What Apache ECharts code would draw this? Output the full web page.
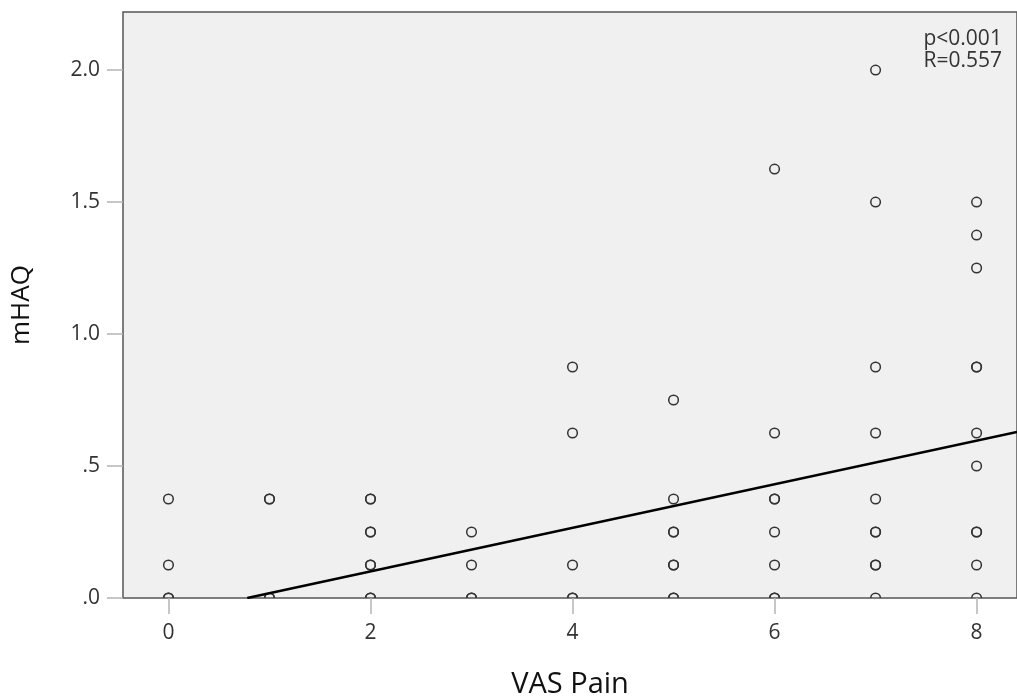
<!DOCTYPE html>
<html>
<head>
<meta charset="utf-8">
<script src="https://cdn.jsdelivr.net/npm/echarts@6/dist/echarts.min.js"></script>
<style>html,body{margin:0;padding:0;background:#fff}#c{width:1017px;height:697px}</style>
</head>
<body>
<div id="c"></div>
<script>
// VAS Pain (x) and mHAQ (y) observations; repeated pairs are overlapping points
const vasPain = [0,0,0,0, 1,1,1,1, 2,2,2,2,2,2,2,2, 3,3,3,3, 4,4,4,4,4, 5,5,5,5,5,5,5,5,
  6,6,6,6,6,6,6,6, 7,7,7,7,7,7,7,7,7,7, 8,8,8,8,8,8,8,8,8,8,8];
const mhaq = [0,0,0.125,0.375, 0,0,0.375,0.375, 0,0,0.125,0.125,0.25,0.25,0.375,0.375, 0,0,0.125,0.25, 0,0,0.125,0.625,0.875,
  0,0,0.125,0.125,0.25,0.25,0.375,0.75,
  0,0,0.125,0.25,0.375,0.375,0.625,1.625,
  0,0.125,0.125,0.25,0.25,0.375,0.625,0.875,1.5,2.0,
  0,0.125,0.25,0.25,0.5,0.625,0.875,0.875,1.25,1.375,1.5];
// fitted regression line end points
const fitX = [0.78, 8.4];
const fitY = [0, 0.629];
const xTickValues = [0, 2, 4, 6, 8];
const yTickValues = [0, 0.5, 1, 1.5, 2];
const yTickLabels = ['.0', '.5', '1.0', '1.5', '2.0'];
const annotation = ['p<0.001', 'R=0.557'];

const font = 'Open Sans';
const chart = echarts.init(document.getElementById('c'), null, {renderer: 'canvas'});
const points = vasPain.map((x, i) => [x, mhaq[i]]);
chart.setOption({
  animation: false,
  textStyle: {fontFamily: font},
  grid: {left: 123, top: 12, right: 0, bottom: 99, show: true, containLabel: false, outerBoundsMode: 'none',
    backgroundColor: '#f0f0f0', borderColor: '#555', borderWidth: 1.5},
  xAxis: {
    type: 'value', min: -0.45, max: 8.4,
    name: 'VAS Pain', nameLocation: 'middle', nameGap: 72,
    nameTextStyle: {fontSize: 29, color: '#111', fontFamily: font},
    axisLine: {show: false, onZero: false},
    splitLine: {show: false},
    axisTick: {show: true, length: 16, customValues: xTickValues, lineStyle: {color: '#b5b5b5', width: 1.5}},
    axisLabel: {customValues: xTickValues, margin: 25, fontSize: 21, color: '#333', fontFamily: font}
  },
  yAxis: {
    type: 'value', min: 0, max: 2.22,
    name: 'mHAQ', nameLocation: 'middle', nameGap: 88,
    nameTextStyle: {fontSize: 26, color: '#111', fontFamily: font},
    axisLine: {show: false, onZero: false},
    splitLine: {show: false},
    axisTick: {show: true, length: 16, customValues: yTickValues, lineStyle: {color: '#b5b5b5', width: 1.5}},
    axisLabel: {customValues: yTickValues, margin: 23, fontSize: 21, color: '#333', fontFamily: font,
      formatter: v => yTickLabels[yTickValues.findIndex(t => Math.abs(t - v) < 1e-9)]}
  },
  series: [
    {type: 'custom', data: points, clip: true,
      renderItem: (params, api) => {
        const p = api.coord([api.value(0), api.value(1)]);
        return {type: 'circle', shape: {cx: p[0], cy: p[1], r: 4.8},
          style: {fill: null, stroke: '#333', lineWidth: 1.5}};
      }},
    {type: 'line', data: fitX.map((x, i) => [x, fitY[i]]), symbol: 'none', clip: true,
      lineStyle: {color: '#000', width: 2.6}}
  ],
  graphic: [{type: 'text', right: 15, top: 28,
    style: {text: annotation.join('\n'), font: '21px "Open Sans"', fill: '#333', align: 'right', lineHeight: 22}}]
});
</script>
</body>
</html>
